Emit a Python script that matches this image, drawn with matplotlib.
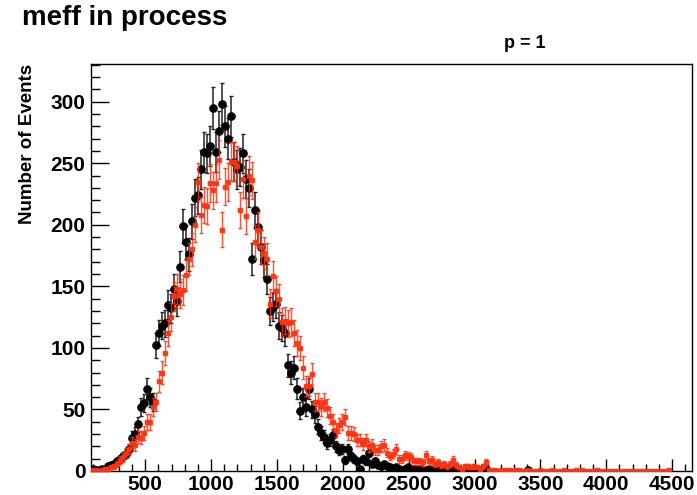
import numpy as np
import matplotlib.pyplot as plt

# binning: 200 bins of ~22.8 starting at ~90
x_lo = 90.0
bin_w = 22.8

# black histogram (bins 0..145), counts per bin
black_counts = [
    2, 1, 1, 2, 1, 4, 5, 6, 8, 10, 12, 14, 18,
    27, 30, 38, 52, 55, 67, 60, 56, 102, 112, 118, 120,
    135, 132, 148, 138, 166, 199, 186, 176, 203, 222, 224, 245,
    259, 258, 264, 295, 259, 276, 298, 280, 270, 288, 251, 245,
    247, 258, 237, 230, 172, 212, 198, 182, 171, 156, 130, 133,
    136, 118, 116, 112, 86, 80, 84, 67, 49, 60, 52, 67,
    50, 46, 36, 31, 28, 23, 25, 29, 20, 17, 18, 9,
    18, 12, 10, 8, 2, 10, 8, 15, 6, 8, 5, 4,
    6, 4, 3, 1,
    3, 2, 1, 2, 3, 1, 2, 1, 2, 1, 1, 2, 1, 0, 1, 2, 1, 1, 0, 1,
    2, 1, 0, 1, 1, 0, 1, 2, 1, 0, 2,
    0, 0, 0, 0, 0, 0, 0, 0, 0, 0, 0, 0, 0, 1,
]

# red histogram (bins 0..192), counts per bin
red_counts = [
    1, 1, 0, 1, 2, 2, 3, 4, 6, 9, 11, 15, 18,
    23, 21, 28, 27, 31, 40, 40, 52, 56, 73, 80, 96,
    112, 125, 142, 148, 144, 147, 159, 172, 180, 200, 235, 208,
    216, 215, 234, 228, 234, 253, 196, 231, 235, 251, 251, 248,
    212, 237, 207, 240, 236, 186, 196, 182, 177, 172, 136, 158,
    146, 140, 121, 122, 120, 121, 112, 104, 100, 84, 69, 69,
    79, 56, 56, 52, 56, 51, 45, 40, 33, 37, 40, 44,
    31, 31, 30, 25, 25, 22, 25, 20, 21, 17, 17, 20,
    21, 15, 12, 14, 18, 10, 10, 13, 12, 11, 8, 8,
    8, 7, 13, 8, 9, 6, 7, 5, 6, 4, 6, 9,
    5, 3, 2, 4, 4, 3, 4, 3, 2, 4, 7, 1, 1,
    1, 0, 1, 1, 1, 1, 0, 1, 1, 0, 0, 1, 0, 0, 0, 1, 0, 0, 0, 1,
    0, 0, 0, 1, 0, 0, 0, 1, 0, 1, 0, 0, 0, 0, 1,
    0, 0, 0, 0, 0, 0, 0, 0, 0, 0, 0, 0, 0, 0, 0, 0, 0, 0, 0, 0, 0, 0, 0,
    1,
]

title = 'meff in process'
label_p = 'p = 1'
y_title = 'Number of Events'

plt.rcParams['font.family'] = ['Liberation Sans', 'DejaVu Sans']
plt.rcParams['font.weight'] = 'bold'

fig = plt.figure(figsize=(6.97, 4.95), dpi=100)
ax = fig.add_axes([0.1306, 0.0485, 0.8623, 0.8222])

# black: markers only where the bin is filled
bc = np.array(black_counts, dtype=float)
bx = x_lo + bin_w * (np.arange(len(bc)) + 0.5)
m = bc > 0
ax.errorbar(bx[m], bc[m], yerr=np.sqrt(bc[m]), fmt='o', color='black',
            ms=5.2, ecolor='#222222', elinewidth=1.1, capsize=1.6, capthick=1,
            zorder=2)

# red: every bin drawn, empty ones leave only the x bar at zero
rc = np.array(red_counts, dtype=float)
rx = x_lo + bin_w * (np.arange(len(rc)) + 0.5)
ax.errorbar(rx, rc, yerr=np.sqrt(rc), xerr=bin_w / 2, fmt='s', color='#ff3311',
            ms=2.2, ecolor='#ff3311', elinewidth=1, capsize=1.6, capthick=1,
            alpha=0.85, zorder=3)

ax.set_xlim(88, 4652)
ax.set_ylim(0, 330.6)
ax.set_xticks(np.arange(500, 4501, 500))
ax.set_xticks(np.arange(100, 4601, 100), minor=True)
ax.set_yticks(np.arange(0, 301, 50))
ax.set_yticks(np.arange(0, 331, 10), minor=True)

ax.tick_params(axis='x', which='major', direction='in', length=8.5, width=1,
               labelsize=15, pad=3, top=False)
ax.tick_params(axis='x', which='minor', direction='in', length=5, width=1, top=False)
ax.tick_params(axis='y', which='major', direction='in', length=13, width=1,
               labelsize=15, pad=4, right=False)
ax.tick_params(axis='y', which='minor', direction='in', length=6.5, width=1, right=False)
for lab in ax.get_xticklabels() + ax.get_yticklabels():
    lab.set_fontweight('bold')
for s in ax.spines.values():
    s.set_linewidth(1)

fig.text(22 / 697, 1 - 18 / 495, title, fontsize=20, fontweight='bold',
         ha='left', va='center')
fig.text(525 / 697, 1 - 44 / 495, label_p, fontsize=13, fontweight='bold',
         ha='center', va='center')
fig.text(28 / 697, 1 - 64 / 495, y_title, fontsize=13.5, fontweight='bold',
         rotation=90, ha='center', va='top')

plt.savefig('out.png', dpi=100)
